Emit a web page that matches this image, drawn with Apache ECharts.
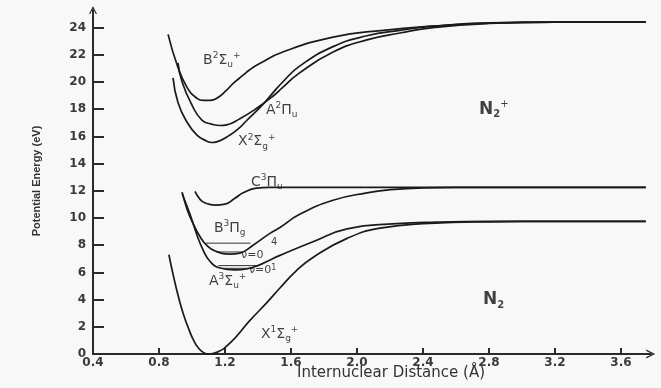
<!DOCTYPE html>
<html><head><meta charset="utf-8">
<script src="https://cdn.jsdelivr.net/npm/echarts@6/dist/echarts.min.js"></script>
<style>html,body{margin:0;padding:0;background:#f8f8f8;}#c{width:661px;height:388px;}</style>
</head><body><div id="c"></div>
<script>
// Tick labels
const xTickLabels = [0.4, 0.8, 1.2, 1.6, 2.0, 2.4, 2.8, 3.2, 3.6];
const yTickLabels = [0, 2, 4, 6, 8, 10, 12, 14, 16, 18, 20, 22, 24];

// Potential curves: [R (Å), E (eV)]
// N2 X1Σg+
const n2X = [[0.86,7.3],[0.89,5.6],[0.92,4.1],[0.95,2.85],[0.98,1.85],[1.01,1.0],[1.045,0.35],[1.08,0.04],[1.1,0.0],[1.15,0.12],[1.23,0.8],[1.35,2.45],[1.455,3.8],[1.533,4.85],[1.63,6.1],[1.733,7.1],[1.94,8.5],[2.14,9.25],[2.44,9.6],[2.8,9.72],[3.2,9.75],[3.75,9.75]];
// N2 A3Σu+
const n2A = [[0.94,11.8],[0.99,10.2],[1.03,8.75],[1.067,7.65],[1.11,6.8],[1.17,6.32],[1.26,6.18],[1.33,6.25],[1.41,6.55],[1.47,6.9],[1.533,7.25],[1.733,8.25],[1.94,9.2],[2.24,9.58],[2.48,9.7],[2.8,9.75],[3.2,9.75],[3.75,9.75]];
// N2 B3Πg
const n2B = [[0.94,11.9],[0.97,10.65],[1.006,9.6],[1.05,8.6],[1.09,7.98],[1.14,7.57],[1.23,7.35],[1.29,7.42],[1.37,8.0],[1.47,8.85],[1.533,9.3],[1.65,10.25],[1.855,11.3],[2.06,11.85],[2.2,12.08],[2.4,12.22],[2.6,12.25],[3.75,12.25]];
// N2 C3Πu
const n2C = [[1.018,11.95],[1.05,11.35],[1.08,11.1],[1.14,10.95],[1.2,11.02],[1.26,11.45],[1.31,11.85],[1.39,12.2],[1.47,12.25],[3.75,12.25]];
// N2+ X2Σg+
const ionX = [[0.885,20.3],[0.915,18.5],[0.97,17.05],[1.03,16.1],[1.09,15.65],[1.12,15.55],[1.15,15.6],[1.23,16.1],[1.285,16.6],[1.33,17.15],[1.43,18.35],[1.49,19.2],[1.55,20.0],[1.65,21.15],[1.855,22.6],[2.06,23.4],[2.26,23.8],[2.46,24.1],[2.8,24.35],[3.2,24.4],[3.75,24.4]];
// N2+ A2Πu
const ionA = [[0.915,21.4],[0.94,20.0],[1.0,18.3],[1.06,17.2],[1.12,16.9],[1.17,16.8],[1.21,16.85],[1.29,17.3],[1.39,18.05],[1.49,18.95],[1.55,19.6],[1.65,20.65],[1.855,22.2],[2.06,23.1],[2.26,23.6],[2.46,24.0],[2.8,24.3],[3.2,24.4],[3.75,24.4]];
// N2+ B2Σu+
const ionB = [[0.855,23.5],[0.91,21.25],[0.97,19.6],[1.03,18.8],[1.07,18.65],[1.11,18.65],[1.15,18.8],[1.21,19.4],[1.25,19.9],[1.31,20.5],[1.35,20.9],[1.41,21.35],[1.55,22.2],[1.855,23.3],[2.16,23.8],[2.46,24.1],[2.85,24.35],[3.2,24.4],[3.75,24.4]];

// Vibrational levels: [E, Rstart, Rend]
const levelE = [8.15, 7.5, 6.3, 6.5];
const levelR0 = [1.085, 1.15, 1.18, 1.16];
const levelR1 = [1.355, 1.31, 1.37, 1.40];

// Annotations
const labelTexts = [
  '{m|B}{sup|2}{m|Σ}{sub|u}{sup|+}',
  '{m|A}{sup|2}{m|Π}{sub|u}',
  '{m|X}{sup|2}{m|Σ}{sub|g}{sup|+}',
  '{m|C}{sup|3}{m|Π}{sub|u}',
  '{m|B}{sup|3}{m|Π}{sub|g}',
  '{m|A}{sup|3}{m|Σ}{sub|u}{sup|+}',
  '{m|X}{sup|1}{m|Σ}{sub|g}{sup|+}',
  '{N|N}{Nsub|2}{Nsup|+}',
  '{N|N}{Nsub|2}',
  '{s|4}',
  '{v|ν=0}',
  '{v|ν=0}{vsup|1}'
];
const labelR = [1.061, 1.442, 1.273, 1.352, 1.127, 1.097, 1.412, 2.733, 2.758, 1.473, 1.291, 1.339];
const labelE = [21.6, 17.94, 15.6, 12.65, 9.26, 5.37, 1.47, 18.0, 3.97, 8.24, 7.3, 6.15];

const FONT = 'DejaVu Sans';
const curveStyle = {color:'#1a1a1a', width:1.7};
function curve(name, data){
  return {name, type:'line', data, smooth:0.5, showSymbol:false, symbol:'none',
    lineStyle:curveStyle, silent:true, z:3};
}
const series = [
  curve('N2 X', n2X), curve('N2 A', n2A), curve('N2 B', n2B), curve('N2 C', n2C),
  curve('N2+ X', ionX), curve('N2+ A', ionA), curve('N2+ B', ionB)
];
levelE.forEach((e,i)=>{
  series.push({type:'line', data:[[levelR0[i],e],[levelR1[i],e]], showSymbol:false, symbol:'none',
    lineStyle:{color:'#333', width:1}, silent:true, z:2});
});
const txt = {color:'#111', fontFamily:FONT};
series.push({
  type:'scatter', symbolSize:2, itemStyle:{color:'rgba(0,0,0,0)'}, silent:true, z:5,
  data: labelR.map((r,i)=>[r, labelE[i]]),
  labelLayout:{hideOverlap:false},
  label:{show:true, position:'right', distance:0, color:'#111',
    formatter:(p)=>labelTexts[p.dataIndex],
    rich:{
      m:Object.assign({fontSize:14, lineHeight:18}, txt),
      sup:Object.assign({fontSize:9, lineHeight:9, verticalAlign:'top'}, txt),
      sub:Object.assign({fontSize:9, lineHeight:9, verticalAlign:'bottom'}, txt),
      N:Object.assign({fontSize:17, fontWeight:'bold', lineHeight:20}, txt),
      Nsub:Object.assign({fontSize:10, fontWeight:'bold', lineHeight:10, verticalAlign:'bottom'}, txt),
      Nsup:Object.assign({fontSize:10, lineHeight:10, verticalAlign:'top'}, txt),
      s:Object.assign({fontSize:10, lineHeight:12}, txt),
      v:Object.assign({fontSize:11, lineHeight:13}, txt),
      vsup:Object.assign({fontSize:8, lineHeight:8, verticalAlign:'top'}, txt)
    }
  }
});

const chevron = 'path://M5,0 L10,10 L8.4,10 L5,3.2 L1.6,10 L0,10 Z';
const axisColor = '#2a2a2a';
const chart = echarts.init(document.getElementById('c'));
chart.setOption({
  backgroundColor:'#f8f8f8',
  animation:false,
  textStyle:{fontFamily:FONT},
  grid:{left:93, right:10.3, top:9.9, bottom:34, containLabel:false, outerBoundsMode:'none'},
  xAxis:{type:'value', min:0.4, max:3.78,
    axisLine:{show:true, onZero:false, lineStyle:{color:axisColor, width:2}, symbol:['none', chevron], symbolSize:[9,10]},
    axisTick:{show:true, inside:true, length:6, customValues:xTickLabels.slice(1), lineStyle:{color:axisColor, width:2}},
    axisLabel:{customValues:xTickLabels, formatter:(v)=>Number(v).toFixed(1), margin:3, fontSize:12, fontWeight:'bold', color:'#3a3a3a', fontFamily:FONT},
    splitLine:{show:false}},
  yAxis:{type:'value', min:0, max:25.3,
    axisLine:{show:true, lineStyle:{color:axisColor, width:2}, symbol:['none', chevron], symbolSize:[11,8]},
    axisTick:{show:true, inside:true, length:11, customValues:yTickLabels.slice(1), lineStyle:{color:axisColor, width:2}},
    axisLabel:{customValues:yTickLabels, formatter:(v)=>String(v), margin:7, fontSize:12, fontWeight:'bold', color:'#3a3a3a', fontFamily:FONT},
    splitLine:{show:false}},
  graphic:[
    {type:'text', x:37, y:181, rotation:Math.PI/2, style:{text:'Potential Energy (eV)', font:'bold 11px "Liberation Sans Narrow", "Liberation Sans", sans-serif', fill:'#333', textAlign:'center', textVerticalAlign:'middle'}},
    {type:'text', x:391, y:373, style:{text:'Internuclear Distance (Å)', font:'15px "DejaVu Sans"', fill:'#333', textAlign:'center', textVerticalAlign:'middle'}}
  ],
  series
});
</script></body></html>
